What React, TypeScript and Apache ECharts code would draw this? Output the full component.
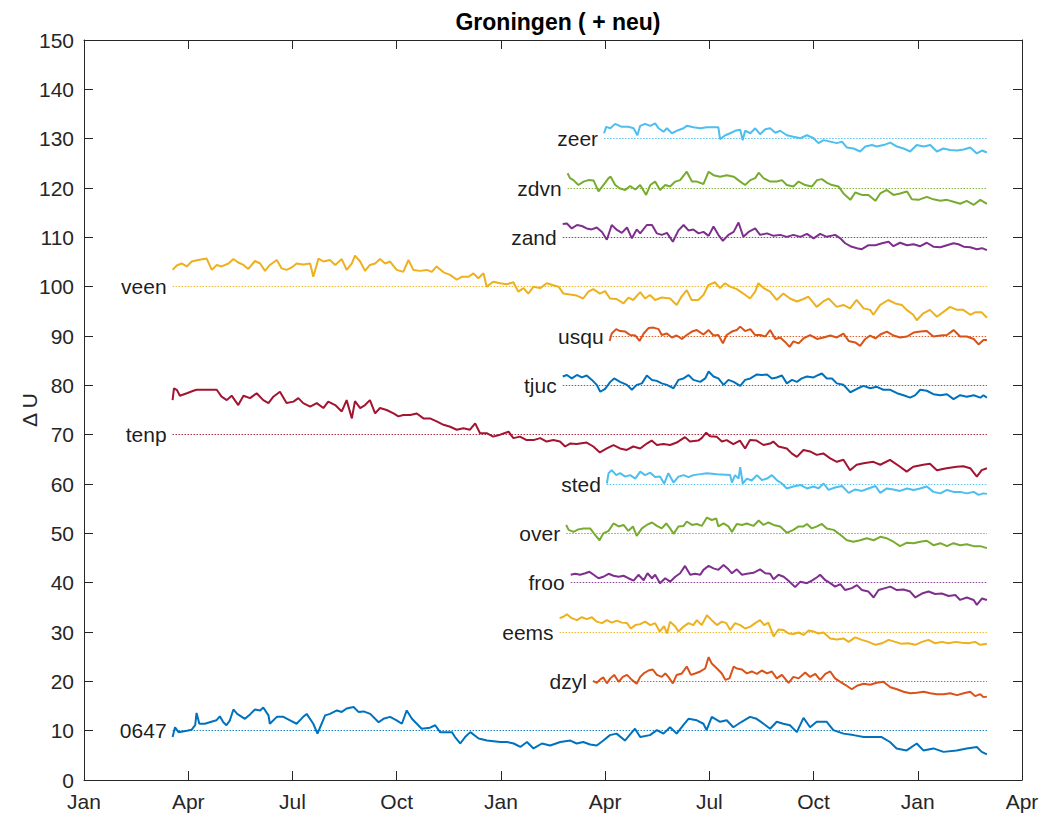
import React, { useEffect, useRef } from "react";
import * as echarts from "echarts";

const FONT = "'Liberation Sans', Arial, Helvetica, sans-serif";
const monthLabels = ["Jan", "Apr", "Jul", "Oct"];
const stationNames = ["0647", "dzyl", "eems", "froo", "over", "sted", "tenp", "tjuc", "usqu", "veen", "zand", "zdvn", "zeer"];
const baselines = [10, 20, 30, 40, 50, 60, 70, 80, 90, 100, 110, 120, 130];
const palette = ["#0072BD", "#D95319", "#EDB120", "#7E2F8E", "#77AC30", "#4DBEEE", "#A2142F"];

// x = months since January of the first year, y = Delta U
const s0647 = [[2.55,8.7],[2.62,10.7],[2.72,9.7],[2.96,10.0],[3.10,10.2],[3.20,11.1],[3.24,13.6],[3.32,11.4],[3.48,11.4],[3.62,11.7],[3.81,12.1],[3.91,12.9],[4.01,11.7],[4.10,11.1],[4.20,12.1],[4.30,14.3],[4.41,13.4],[4.63,12.4],[4.78,13.3],[4.92,14.3],[5.07,14.1],[5.16,14.7],[5.31,13.1],[5.35,11.4],[5.55,12.8],[5.74,12.8],[5.93,12.1],[6.12,11.4],[6.31,12.8],[6.41,13.4],[6.60,11.4],[6.72,9.4],[6.84,11.4],[6.94,13.1],[7.08,13.4],[7.28,14.1],[7.42,13.8],[7.56,14.5],[7.76,14.8],[7.90,13.8],[8.05,13.9],[8.24,13.4],[8.48,11.7],[8.62,12.4],[8.81,12.8],[9.00,12.1],[9.15,11.4],[9.29,14.1],[9.44,12.4],[9.58,11.4],[9.72,10.4],[9.96,10.6],[10.11,11.1],[10.25,9.7],[10.44,9.7],[10.59,9.7],[10.68,8.7],[10.83,7.4],[10.97,8.7],[11.12,9.7],[11.36,8.4],[11.60,8.0],[11.98,7.7],[12.18,7.7],[12.37,7.4],[12.56,6.7],[12.75,7.7],[12.94,6.4],[13.18,7.4],[13.42,7.0],[13.71,7.7],[14.00,8.0],[14.18,7.4],[14.37,7.7],[14.57,7.2],[14.76,7.0],[14.95,8.0],[15.14,9.1],[15.33,9.4],[15.57,8.0],[15.86,10.4],[16.01,8.7],[16.29,9.1],[16.49,10.1],[16.68,9.4],[16.87,10.7],[17.06,9.4],[17.25,11.1],[17.40,12.4],[17.64,12.1],[17.83,11.4],[17.92,10.1],[18.07,12.8],[18.31,11.8],[18.50,12.1],[18.69,10.7],[18.93,11.8],[19.17,12.8],[19.36,12.4],[19.56,11.4],[19.75,10.4],[19.94,11.8],[20.13,11.4],[20.32,11.1],[20.52,9.7],[20.71,12.6],[20.90,10.7],[21.09,11.8],[21.38,11.8],[21.57,10.1],[21.86,9.4],[22.15,9.1],[22.44,8.7],[22.72,8.7],[22.96,8.7],[23.20,7.7],[23.39,6.4],[23.68,6.0],[23.97,7.4],[24.16,6.0],[24.45,6.4],[24.74,5.7],[25.12,6.0],[25.41,6.4],[25.70,6.7],[25.84,5.7],[25.99,5.2]];

const sDzyl = [[14.65,20.1],[14.76,19.7],[14.86,20.4],[14.95,20.8],[15.05,19.6],[15.15,20.6],[15.26,21.3],[15.39,19.9],[15.51,20.9],[15.63,21.3],[15.77,20.3],[15.91,19.5],[16.01,20.9],[16.11,21.6],[16.25,22.2],[16.37,22.4],[16.49,21.3],[16.63,20.9],[16.73,21.6],[16.82,20.9],[16.95,19.6],[17.06,21.3],[17.21,21.6],[17.35,23.0],[17.47,21.3],[17.59,21.6],[17.74,22.0],[17.88,22.6],[17.98,24.9],[18.07,23.6],[18.22,22.6],[18.36,21.6],[18.46,20.3],[18.58,20.6],[18.70,23.0],[18.79,22.6],[18.94,22.4],[19.08,21.6],[19.22,22.0],[19.37,21.5],[19.51,22.2],[19.66,21.6],[19.80,22.0],[19.94,20.6],[20.09,21.3],[20.28,19.7],[20.42,20.9],[20.57,20.6],[20.76,21.8],[20.90,20.9],[21.05,21.5],[21.19,20.3],[21.34,21.5],[21.48,22.0],[21.62,20.6],[21.77,19.9],[21.91,19.3],[22.10,18.4],[22.25,19.1],[22.44,19.5],[22.63,19.3],[22.82,19.7],[23.01,19.9],[23.21,18.8],[23.40,18.4],[23.59,17.9],[23.78,17.6],[23.97,17.7],[24.17,17.9],[24.36,17.6],[24.55,17.4],[24.74,17.4],[24.93,17.6],[25.13,17.2],[25.32,17.6],[25.51,17.9],[25.65,17.0],[25.80,17.4],[25.89,16.8],[25.99,16.9]];

const sEems = [[13.69,32.8],[13.80,33.1],[13.90,33.6],[14.04,32.8],[14.19,32.4],[14.33,33.0],[14.47,32.6],[14.62,33.0],[14.76,32.1],[14.91,31.8],[15.05,32.4],[15.19,31.9],[15.34,32.3],[15.48,31.9],[15.63,31.8],[15.74,30.7],[15.87,31.4],[16.01,31.6],[16.15,32.1],[16.30,31.4],[16.44,31.8],[16.57,30.1],[16.70,31.2],[16.78,29.7],[16.87,32.1],[17.02,31.1],[17.11,30.1],[17.26,31.1],[17.40,31.8],[17.54,31.4],[17.64,32.4],[17.78,31.4],[17.93,33.4],[18.07,32.4],[18.22,31.4],[18.36,32.1],[18.49,31.8],[18.60,30.4],[18.74,31.8],[18.89,31.4],[19.03,30.7],[19.18,31.1],[19.32,31.8],[19.46,32.4],[19.58,31.4],[19.70,31.9],[19.85,29.1],[19.99,30.5],[20.14,30.4],[20.28,29.7],[20.42,29.6],[20.57,29.9],[20.71,29.4],[20.86,30.3],[21.00,30.1],[21.14,29.7],[21.29,29.9],[21.48,28.7],[21.67,28.5],[21.86,28.7],[22.01,28.0],[22.20,28.9],[22.39,28.4],[22.58,28.0],[22.78,27.4],[22.97,27.7],[23.16,28.4],[23.35,28.0],[23.54,27.6],[23.73,27.7],[23.93,27.4],[24.12,28.0],[24.31,28.4],[24.50,27.7],[24.69,28.0],[24.89,27.7],[25.08,28.0],[25.27,27.8],[25.46,27.7],[25.65,28.0],[25.80,27.4],[25.99,27.6]];

const sFroo = [[14.01,41.6],[14.14,41.8],[14.28,41.6],[14.43,41.9],[14.55,42.2],[14.67,41.6],[14.81,40.9],[14.95,41.2],[15.10,41.8],[15.24,41.4],[15.39,41.2],[15.53,41.4],[15.67,40.9],[15.82,40.4],[15.96,41.6],[16.11,40.5],[16.22,41.9],[16.35,40.9],[16.44,41.6],[16.58,39.9],[16.73,40.9],[16.87,40.2],[17.02,41.2],[17.16,41.9],[17.30,43.4],[17.45,41.6],[17.59,41.8],[17.74,41.6],[17.83,42.6],[17.98,43.4],[18.12,42.9],[18.26,42.6],[18.41,43.6],[18.55,42.7],[18.65,41.9],[18.79,42.7],[18.94,41.6],[19.08,41.8],[19.27,42.0],[19.46,42.7],[19.61,41.9],[19.75,41.8],[19.85,40.7],[19.99,41.6],[20.14,41.2],[20.28,40.4],[20.47,39.1],[20.62,40.2],[20.81,39.9],[20.95,40.4],[21.10,41.1],[21.19,41.6],[21.34,40.5],[21.48,39.9],[21.62,39.2],[21.77,39.7],[21.91,38.5],[22.10,38.9],[22.25,39.5],[22.39,38.5],[22.58,38.2],[22.73,37.0],[22.87,38.5],[23.06,38.9],[23.21,39.2],[23.40,38.5],[23.59,38.6],[23.78,38.2],[23.93,37.0],[24.12,37.8],[24.31,38.2],[24.50,37.7],[24.69,37.8],[24.89,37.3],[25.08,37.5],[25.22,36.5],[25.41,37.0],[25.61,36.5],[25.70,35.5],[25.85,36.8],[25.99,36.5]];

const sOver = [[13.88,51.7],[13.95,50.7],[14.09,50.3],[14.23,50.8],[14.38,51.0],[14.57,51.0],[14.71,49.7],[14.84,48.6],[14.95,50.0],[15.10,50.5],[15.24,52.0],[15.39,51.4],[15.53,51.7],[15.67,50.5],[15.80,51.4],[15.91,49.5],[16.06,51.0],[16.20,51.7],[16.35,52.2],[16.49,51.5],[16.63,51.0],[16.76,52.0],[16.87,51.0],[16.97,49.9],[17.11,51.4],[17.26,51.5],[17.35,52.4],[17.50,51.7],[17.64,51.9],[17.78,51.5],[17.93,53.2],[18.07,52.7],[18.20,53.0],[18.26,51.4],[18.41,52.0],[18.55,51.4],[18.65,50.3],[18.79,51.9],[18.94,51.7],[19.08,52.0],[19.27,51.5],[19.42,52.6],[19.56,51.7],[19.70,52.2],[19.85,51.7],[20.04,51.4],[20.23,50.1],[20.42,50.7],[20.57,51.4],[20.71,51.4],[20.81,51.9],[20.95,51.0],[21.10,51.4],[21.24,51.9],[21.38,51.0],[21.58,50.7],[21.77,49.7],[21.96,48.6],[22.15,48.3],[22.34,48.6],[22.53,49.0],[22.73,48.6],[22.92,49.3],[23.11,49.0],[23.30,48.3],[23.49,47.4],[23.69,48.1],[23.88,48.0],[24.07,48.3],[24.26,48.5],[24.45,47.6],[24.65,48.0],[24.84,47.4],[25.03,48.0],[25.22,47.6],[25.41,47.8],[25.61,47.4],[25.80,47.4],[25.99,47.0]];

const sSted = [[15.05,60.1],[15.10,62.2],[15.19,62.8],[15.32,61.8],[15.43,62.2],[15.58,61.5],[15.72,61.8],[15.87,61.1],[16.01,62.5],[16.15,61.8],[16.30,62.3],[16.44,61.4],[16.58,61.5],[16.70,60.1],[16.82,62.2],[16.97,60.3],[17.11,61.5],[17.26,61.8],[17.40,61.4],[17.54,61.8],[17.74,62.0],[17.93,62.2],[18.22,62.0],[18.60,61.8],[18.65,60.3],[18.74,61.8],[18.84,61.1],[18.89,63.4],[18.96,60.1],[19.08,61.1],[19.22,60.7],[19.37,61.8],[19.51,60.8],[19.66,61.1],[19.80,61.8],[19.94,60.8],[20.09,60.1],[20.23,59.1],[20.42,59.5],[20.62,59.8],[20.81,59.1],[21.00,59.5],[21.14,59.1],[21.29,60.1],[21.43,58.8],[21.62,59.3],[21.82,59.6],[22.01,58.2],[22.20,58.9],[22.39,58.6],[22.58,59.1],[22.78,59.6],[22.92,58.2],[23.11,59.1],[23.30,58.9],[23.49,58.6],[23.69,59.1],[23.88,58.8],[24.07,59.1],[24.26,59.5],[24.45,58.4],[24.65,58.1],[24.84,58.8],[25.03,58.4],[25.22,58.4],[25.41,58.1],[25.61,58.4],[25.75,57.8],[25.89,58.1],[25.99,58.0]];

const sTenp = [[2.55,77.0],[2.59,79.4],[2.67,79.1],[2.76,77.9],[2.96,78.4],[3.15,78.9],[3.24,79.1],[3.72,79.1],[3.82,79.1],[3.96,77.7],[4.11,77.0],[4.25,77.9],[4.44,76.0],[4.59,77.9],[4.78,77.4],[4.97,78.4],[5.16,77.0],[5.31,76.4],[5.45,77.7],[5.64,78.7],[5.83,76.4],[6.03,76.7],[6.17,77.4],[6.31,76.4],[6.51,75.7],[6.70,76.4],[6.89,75.4],[7.03,76.7],[7.23,76.0],[7.42,74.7],[7.56,77.0],[7.71,73.3],[7.80,76.8],[7.95,75.4],[8.09,76.0],[8.23,77.0],[8.38,74.3],[8.52,75.4],[8.71,75.0],[8.91,74.3],[9.05,73.7],[9.19,74.0],[9.39,74.0],[9.58,74.3],[9.77,73.3],[9.96,73.3],[10.15,72.7],[10.35,72.0],[10.54,71.6],[10.73,71.0],[10.92,71.3],[11.11,71.0],[11.26,72.3],[11.40,70.3],[11.59,70.3],[11.78,69.6],[11.98,70.0],[12.22,70.6],[12.36,69.3],[12.55,69.6],[12.74,68.9],[12.94,68.9],[13.13,69.3],[13.32,68.6],[13.51,68.9],[13.70,68.6],[13.85,67.6],[13.99,68.2],[14.18,68.1],[14.47,68.4],[14.66,67.6],[14.85,66.4],[15.05,67.2],[15.24,67.9],[15.43,67.2],[15.62,66.9],[15.81,67.6],[16.01,67.2],[16.20,68.2],[16.34,68.8],[16.49,67.9],[16.68,68.1],[16.87,67.9],[17.06,68.4],[17.30,69.5],[17.44,68.6],[17.68,68.8],[17.78,69.3],[17.91,70.4],[18.02,69.7],[18.21,69.6],[18.36,68.6],[18.50,68.9],[18.69,68.1],[18.88,68.8],[19.03,67.2],[19.17,68.9],[19.36,68.8],[19.56,67.9],[19.75,68.2],[19.84,68.6],[19.99,67.6],[20.23,67.2],[20.37,66.2],[20.52,65.5],[20.71,66.9],[20.90,66.6],[21.09,65.9],[21.28,66.2],[21.48,65.2],[21.67,64.5],[21.86,64.9],[22.05,62.8],[22.24,63.9],[22.44,64.2],[22.72,64.5],[22.92,63.9],[23.20,64.9],[23.49,63.5],[23.68,62.5],[23.87,63.5],[24.16,63.9],[24.35,64.1],[24.55,62.8],[24.83,63.2],[25.12,63.5],[25.31,63.6],[25.51,63.2],[25.70,61.5],[25.84,62.8],[25.99,63.2]];

const sTjuc = [[13.78,81.8],[13.90,82.1],[14.04,81.4],[14.19,82.1],[14.33,81.6],[14.47,82.0],[14.62,81.1],[14.76,80.1],[14.86,78.7],[15.00,79.3],[15.15,80.7],[15.26,81.4],[15.43,80.7],[15.63,80.1],[15.77,79.1],[15.91,80.1],[16.06,80.4],[16.20,82.0],[16.35,81.1],[16.49,80.9],[16.63,80.4],[16.78,80.1],[16.97,79.4],[17.11,81.1],[17.26,81.4],[17.40,82.1],[17.54,81.1],[17.74,80.7],[17.88,81.4],[17.98,82.8],[18.12,81.8],[18.26,81.4],[18.41,80.1],[18.55,81.1],[18.70,80.7],[18.89,79.9],[19.03,81.1],[19.18,81.4],[19.37,82.2],[19.51,82.1],[19.66,82.2],[19.80,81.4],[19.94,81.6],[20.09,82.0],[20.23,80.4],[20.38,81.1],[20.52,80.7],[20.66,81.4],[20.81,81.8],[21.00,81.6],[21.14,82.1],[21.24,82.4],[21.38,81.4],[21.53,81.4],[21.67,80.4],[21.86,80.1],[22.06,78.6],[22.25,79.3],[22.44,79.9],[22.63,79.4],[22.82,79.7],[23.01,79.1],[23.21,79.1],[23.40,78.4],[23.59,78.0],[23.78,77.5],[23.93,78.0],[24.07,79.1],[24.26,78.9],[24.45,78.2],[24.65,78.0],[24.84,78.2],[25.03,77.2],[25.22,78.0],[25.41,77.7],[25.61,78.0],[25.80,77.5],[25.89,78.0],[25.99,77.5]];

const sUsqu = [[15.13,89.0],[15.19,90.5],[15.32,91.4],[15.43,91.0],[15.58,90.9],[15.72,90.2],[15.87,90.1],[15.99,89.0],[16.11,90.5],[16.25,91.6],[16.39,91.7],[16.54,91.4],[16.63,90.2],[16.78,90.5],[16.92,89.7],[17.06,90.1],[17.21,89.4],[17.35,90.2],[17.50,90.9],[17.64,91.2],[17.83,90.3],[17.98,91.2],[18.12,90.1],[18.26,90.2],[18.39,88.5],[18.50,90.2],[18.65,90.9],[18.79,91.2],[18.89,91.9],[19.03,91.0],[19.18,91.4],[19.32,90.2],[19.46,90.2],[19.61,89.9],[19.75,91.2],[19.90,89.4],[20.04,89.7],[20.18,88.8],[20.31,87.8],[20.42,88.9],[20.57,88.5],[20.71,89.5],[20.90,90.2],[21.10,89.4],[21.29,89.7],[21.48,90.1],[21.67,89.7],[21.86,90.5],[22.01,89.0],[22.20,88.7],[22.34,88.0],[22.49,89.4],[22.63,90.1],[22.78,89.5],[22.92,90.3],[23.11,90.9],[23.30,90.1],[23.49,89.7],[23.69,89.9],[23.88,90.7],[24.07,90.9],[24.26,91.0],[24.45,89.9],[24.65,90.1],[24.84,90.2],[25.03,91.2],[25.22,89.9],[25.41,89.9],[25.61,89.4],[25.75,88.3],[25.89,89.2],[25.99,89.2]];

const sVeen = [[2.55,103.4],[2.67,104.3],[2.81,104.7],[2.96,104.1],[3.10,105.1],[3.29,105.4],[3.53,105.7],[3.68,103.4],[3.82,104.4],[3.96,104.1],[4.16,104.7],[4.30,105.6],[4.44,104.9],[4.59,104.4],[4.73,103.6],[4.92,105.2],[5.07,104.7],[5.21,103.2],[5.35,104.4],[5.55,105.4],[5.69,103.7],[5.83,103.4],[5.98,103.9],[6.12,104.7],[6.31,104.5],[6.51,104.7],[6.60,102.0],[6.75,105.7],[6.89,105.1],[7.08,105.4],[7.23,104.4],[7.42,105.6],[7.56,103.4],[7.71,104.7],[7.80,106.3],[7.95,105.1],[8.09,103.2],[8.23,104.4],[8.38,104.7],[8.52,105.6],[8.67,104.7],[8.81,105.1],[9.00,103.4],[9.19,103.0],[9.34,105.4],[9.48,103.4],[9.67,103.2],[9.87,103.4],[10.01,103.0],[10.15,104.1],[10.35,102.9],[10.54,102.4],[10.73,101.4],[10.87,102.0],[11.07,102.0],[11.21,102.7],[11.35,101.7],[11.50,102.7],[11.59,100.0],[11.78,101.0],[11.98,100.7],[12.17,100.5],[12.36,100.9],[12.50,99.0],[12.65,99.7],[12.79,98.6],[12.94,100.0],[13.13,99.7],[13.32,100.7],[13.51,100.3],[13.66,100.0],[13.80,98.6],[13.99,98.4],[14.18,98.2],[14.37,97.6],[14.52,99.0],[14.66,99.5],[14.85,98.6],[15.00,99.1],[15.14,97.6],[15.33,97.5],[15.53,96.6],[15.67,97.8],[15.81,97.3],[16.01,98.9],[16.15,97.6],[16.29,98.3],[16.44,97.3],[16.63,97.8],[16.87,97.6],[17.06,96.3],[17.20,98.0],[17.35,99.3],[17.49,97.3],[17.68,97.3],[17.83,98.3],[17.97,100.3],[18.16,100.9],[18.31,99.7],[18.45,100.7],[18.60,100.0],[18.79,99.5],[18.98,98.6],[19.17,97.6],[19.32,99.0],[19.41,100.7],[19.56,99.7],[19.75,99.0],[19.94,97.3],[20.13,98.6],[20.32,97.6],[20.52,97.0],[20.71,97.5],[20.85,98.0],[21.09,95.9],[21.28,97.0],[21.43,97.6],[21.67,95.9],[21.86,96.3],[22.05,95.6],[22.24,97.3],[22.44,95.6],[22.63,95.3],[22.72,94.3],[22.92,96.3],[23.15,97.3],[23.35,96.6],[23.54,96.3],[23.68,95.3],[23.87,94.3],[23.97,93.2],[24.16,94.6],[24.35,95.3],[24.55,93.9],[24.74,94.9],[24.93,95.9],[25.12,95.3],[25.31,95.3],[25.51,94.3],[25.65,94.8],[25.84,94.8],[25.99,93.7]];

const sZand = [[13.78,112.7],[13.90,112.8],[14.04,111.8],[14.19,112.5],[14.33,112.3],[14.47,111.8],[14.62,111.6],[14.76,112.0],[14.91,111.1],[15.05,109.5],[15.19,112.5],[15.34,111.5],[15.48,110.9],[15.63,112.0],[15.77,109.8],[15.91,111.6],[16.01,110.8],[16.20,112.5],[16.35,112.5],[16.49,110.8],[16.63,110.5],[16.78,110.9],[16.95,109.1],[17.11,111.4],[17.26,112.5],[17.40,111.4],[17.54,111.6],[17.69,110.8],[17.83,111.1],[17.98,110.3],[18.12,112.2],[18.26,110.5],[18.39,109.3],[18.55,110.5],[18.70,111.1],[18.84,113.0],[18.98,110.1],[19.13,111.1],[19.32,111.8],[19.46,110.5],[19.66,110.8],[19.85,110.3],[20.04,110.5],[20.23,110.1],[20.42,110.5],[20.62,110.1],[20.81,110.7],[21.00,109.8],[21.19,110.7],[21.38,110.1],[21.62,110.5],[21.77,109.8],[21.91,108.8],[22.06,108.2],[22.25,107.8],[22.39,107.6],[22.58,108.4],[22.78,108.4],[22.97,108.8],[23.16,109.1],[23.30,108.2],[23.49,108.9],[23.69,108.4],[23.88,108.6],[24.07,108.2],[24.26,108.9],[24.45,108.1],[24.65,108.0],[24.84,108.4],[25.03,108.8],[25.17,108.6],[25.32,108.1],[25.51,108.0],[25.70,107.6],[25.85,107.8],[25.99,107.4]];

const sZdvn = [[13.92,123.0],[13.99,122.0],[14.09,121.6],[14.23,120.6],[14.38,121.3],[14.52,121.6],[14.67,121.5],[14.81,119.3],[14.95,120.6],[15.10,122.0],[15.16,122.3],[15.29,120.6],[15.43,119.9],[15.58,119.6],[15.72,120.4],[15.87,119.7],[16.01,120.6],[16.18,118.6],[16.30,120.6],[16.44,121.3],[16.58,119.6],[16.73,120.6],[16.87,120.3],[17.02,121.3],[17.16,121.6],[17.35,123.3],[17.50,121.3],[17.64,121.3],[17.83,120.8],[17.98,123.3],[18.12,122.6],[18.31,122.3],[18.50,122.6],[18.70,122.3],[18.89,121.3],[19.03,120.6],[19.18,121.6],[19.32,122.0],[19.42,123.1],[19.56,122.0],[19.75,121.3],[19.94,121.3],[20.09,121.6],[20.23,120.6],[20.42,120.3],[20.57,121.3],[20.76,120.6],[20.95,120.3],[21.10,121.6],[21.24,121.8],[21.38,121.1],[21.53,120.6],[21.72,120.3],[21.86,118.9],[22.06,117.6],[22.20,119.1],[22.39,118.6],[22.58,118.6],[22.78,117.4],[22.92,118.9],[23.11,119.6],[23.30,118.6],[23.49,118.9],[23.69,119.3],[23.83,117.7],[24.02,117.6],[24.26,118.2],[24.45,117.7],[24.65,117.4],[24.84,117.6],[25.03,117.2],[25.22,116.8],[25.41,117.4],[25.61,116.6],[25.80,117.6],[25.99,116.8]];

const sZeer = [[14.97,131.1],[15.03,132.4],[15.15,132.1],[15.29,133.0],[15.48,132.4],[15.67,132.4],[15.82,132.1],[15.93,130.7],[16.01,132.6],[16.15,133.0],[16.30,132.6],[16.44,133.1],[16.54,132.1],[16.68,131.4],[16.78,132.1],[16.92,131.1],[17.06,131.6],[17.26,132.1],[17.35,132.6],[17.54,132.3],[17.74,132.1],[17.93,132.3],[18.26,132.3],[18.31,129.9],[18.46,130.7],[18.60,131.1],[18.74,131.6],[18.89,131.8],[18.96,129.7],[19.03,131.6],[19.18,131.1],[19.32,132.1],[19.46,130.9],[19.61,131.9],[19.75,132.1],[19.90,131.2],[20.04,131.6],[20.23,130.7],[20.42,130.4],[20.62,130.1],[20.81,130.7],[21.00,130.1],[21.14,129.1],[21.29,129.7],[21.48,129.4],[21.67,129.1],[21.82,129.4],[21.96,128.2],[22.15,128.0],[22.34,127.4],[22.49,128.4],[22.68,128.7],[22.82,128.4],[23.01,128.7],[23.21,129.2],[23.40,128.4],[23.59,128.0],[23.78,127.4],[23.97,128.7],[24.17,128.4],[24.36,128.7],[24.55,127.4],[24.74,128.0],[24.93,127.7],[25.13,127.6],[25.32,127.8],[25.51,128.2],[25.70,127.0],[25.85,127.6],[25.99,127.2]];

const seriesValues = [s0647, sDzyl, sEems, sFroo, sOver, sSted, sTenp, sTjuc, sUsqu, sVeen, sZand, sZdvn, sZeer];

const AXIS_COLOR = "#262626";

export default function App() {
  const ref = useRef<HTMLDivElement>(null);
  useEffect(() => {
    document.body.style.margin = "0";
    if (!ref.current) return;
    const chart = echarts.init(ref.current, undefined, { renderer: "svg" });
    const series: any[] = stationNames.map((name, i) => {
      const data = seriesValues[i];
      const color = palette[i % palette.length];
      return {
        type: "line",
        name,
        data,
        xAxisIndex: 0,
        yAxisIndex: 0,
        showSymbol: false,
        symbol: "none",
        lineStyle: { color, width: 2 },
        itemStyle: { color },
        z: 3,
        markLine: {
          silent: true,
          symbol: ["none", "none"],
          lineStyle: { color, width: 1, type: [1.5, 1.5], opacity: 0.9 },
          label: {
            show: true,
            position: "start",
            formatter: () => name,
            color: "#000000",
            fontSize: 21,
            fontFamily: FONT,
            distance: 6,
          },
          emphasis: { disabled: true },
          data: [[{ coord: [data[0][0], baselines[i]] }, { coord: [data[data.length - 1][0], baselines[i]] }]],
        },
      };
    });
    const tick = () => ({ inside: true, length: 9, lineStyle: { color: AXIS_COLOR, width: 1 } });
    const axLine = () => ({ show: true, onZero: false, lineStyle: { color: AXIS_COLOR, width: 1 } });
    chart.setOption({
      animation: false,
      backgroundColor: "#ffffff",
      title: {
        text: "Groningen ( + neu)",
        left: 553,
        top: 5,
        textAlign: "center",
        textStyle: { fontFamily: FONT, fontSize: 23, fontWeight: "bold", color: "#000" },
      },
      grid: { left: 84, right: 24, top: 40, bottom: 39 },
      xAxis: [
        {
          type: "value",
          position: "bottom",
          min: 0,
          max: 27,
          interval: 3,
          axisLine: axLine(),
          axisTick: tick(),
          splitLine: { show: false },
          axisLabel: {
            margin: 11,
            color: AXIS_COLOR,
            fontSize: 21,
            fontFamily: FONT,
            formatter: (v: number) => monthLabels[Math.round(v / 3) % 4],
          },
        },
        {
          type: "value",
          position: "top",
          min: 0,
          max: 27,
          interval: 3,
          axisLine: axLine(),
          axisTick: tick(),
          splitLine: { show: false },
          axisLabel: { show: false },
        },
      ],
      yAxis: [
        {
          type: "value",
          position: "left",
          min: 0,
          max: 150,
          interval: 10,
          name: "Δ U",
          nameLocation: "middle",
          nameGap: 44,
          nameMoveOverlap: false,
          nameRotate: 90,
          nameTextStyle: { fontFamily: FONT, fontSize: 21, color: AXIS_COLOR },
          axisLine: axLine(),
          axisTick: tick(),
          splitLine: { show: false },
          axisLabel: { margin: 10, color: AXIS_COLOR, fontSize: 21, fontFamily: FONT },
        },
        {
          type: "value",
          position: "right",
          min: 0,
          max: 150,
          interval: 10,
          axisLine: axLine(),
          axisTick: tick(),
          splitLine: { show: false },
          axisLabel: { show: false },
        },
      ],
      series,
    });
    return () => chart.dispose();
  }, []);
  return <div ref={ref} style={{ width: 1046, height: 819 }} />;
}
